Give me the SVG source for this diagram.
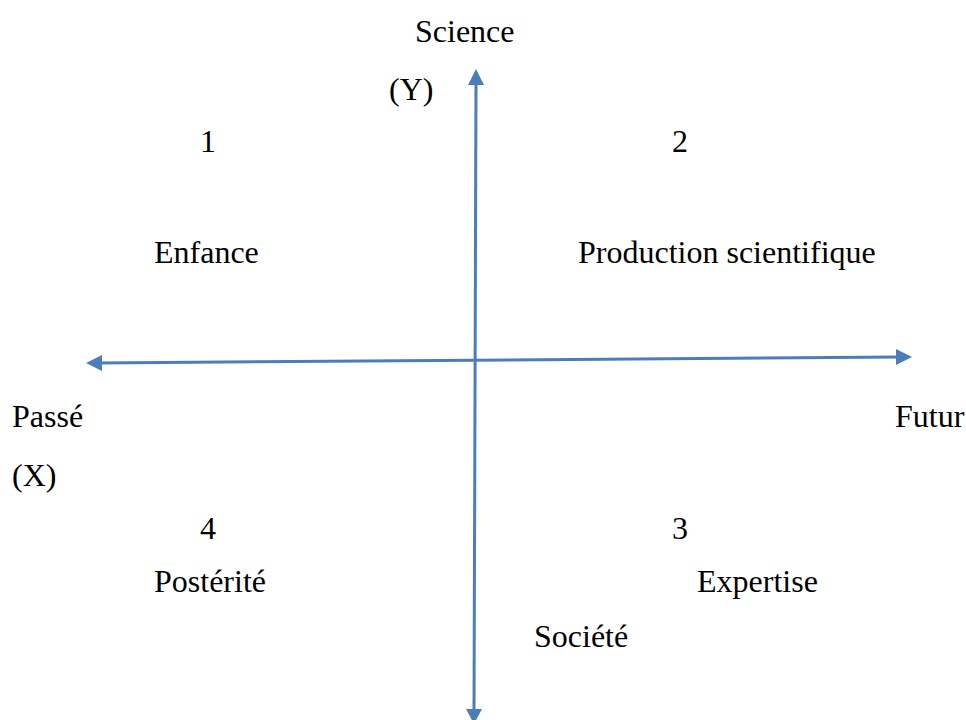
<svg xmlns="http://www.w3.org/2000/svg" width="966" height="720" viewBox="0 0 966 720">
<style>
text{font-family:"Liberation Serif","Times New Roman",serif;font-size:32px;fill:#000}
.ax{stroke:#4a7ebb;stroke-width:3;fill:none}
.hd{fill:#4a7ebb}
</style>
<rect width="966" height="720" fill="#fff"/>
<g id="connectors">
<line class="ax" x1="476" y1="82" x2="474" y2="712"/>
<polygon class="hd" points="476,69 468,85 484,85"/>
<polygon class="hd" points="474,724 466,709 482,709"/>
<line class="ax" x1="98" y1="363" x2="899" y2="357"/>
<polygon class="hd" points="86,363 102,355 102,371"/>
<polygon class="hd" points="912,357 896,349 896,365"/>
</g>
<g id="labels">
<text x="415" y="42">Science</text>
<text x="389" y="100">(Y)</text>
<text x="12" y="427">Passé</text>
<text x="12" y="486">(X)</text>
<text x="895" y="427">Futur</text>
<text x="534" y="647">Société</text>
</g>
<g id="q1"><text x="200" y="152">1</text><text x="154" y="263">Enfance</text></g>
<g id="q2"><text x="672" y="152">2</text><text x="578" y="263">Production scientifique</text></g>
<g id="q3"><text x="672" y="539">3</text><text x="697" y="592">Expertise</text></g>
<g id="q4"><text x="200" y="539">4</text><text x="154" y="592">Postérité</text></g>
</svg>
